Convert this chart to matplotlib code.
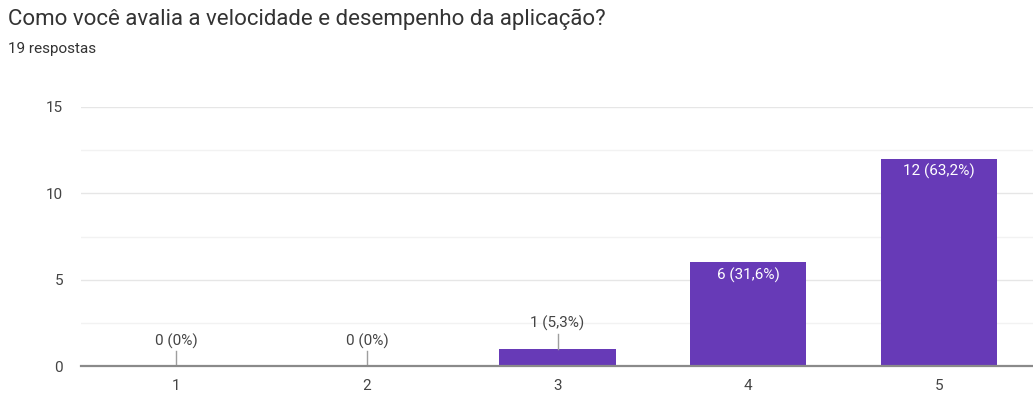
import matplotlib
matplotlib.use("Agg")
import matplotlib.pyplot as plt

categories = ["1", "2", "3", "4", "5"]
counts = [0, 0, 1, 6, 12]
labels = ["0 (0%)", "0 (0%)", "1 (5,3%)", "6 (31,6%)", "12 (63,2%)"]
title = "Como você avalia a velocidade e desempenho da aplicação?"
subtitle = "19 respostas"
yticks = [0, 5, 10, 15]

plt.rcParams['font.family'] = ['Roboto', 'DejaVu Sans']
W, H = 1033, 394
fig = plt.figure(figsize=(W/100, H/100), dpi=100)
ax = fig.add_axes([81/W, 1-366/H, (1034-81)/W, (366-107)/H])

x = list(range(1, len(categories)+1))
purple = "#673AB7"
ax.bar(x, counts, width=0.61, color=purple, zorder=3)

ax.set_xlim(0.5, 5.5)
ax.set_ylim(0, 15)
ax.set_yticks(yticks)
ax.set_yticks([2.5, 7.5, 12.5], minor=True)
ax.grid(axis='y', which='major', color='#e6e6e6', lw=1, zorder=0)
ax.grid(axis='y', which='minor', color='#f2f2f2', lw=1, zorder=0)
ax.tick_params(axis='y', which='both', length=0, labelsize=11, labelcolor='#444444', pad=13)
ax.tick_params(axis='x', length=0, labelsize=11, labelcolor='#444444', pad=9)
ax.set_xticks(x)
ax.set_xticklabels(categories)
for s in ['top', 'right', 'left']:
    ax.spines[s].set_visible(False)
ax.spines['bottom'].set_color('#8a8a8a')
ax.spines['bottom'].set_linewidth(1.6)
ax.spines['bottom'].set_zorder(4)

for xi, c, lab in zip(x, counts, labels):
    if c >= 3:
        ax.text(xi, c - 0.3, lab, ha='center', va='top', color='white', fontsize=11, zorder=5)
    else:
        ax.plot([xi, xi], [c, c + 0.85], color='#9e9e9e', lw=1, zorder=4)
        ax.text(xi, c + 1.0, lab, ha='center', va='bottom', color='#444444', fontsize=11, zorder=5)

fig.text(8/W, 1-19/H, title, ha='left', va='center', fontsize=16, color='#333333')
fig.text(8/W, 1-49/H, subtitle, ha='left', va='center', fontsize=11, color='#333333')

fig.savefig("out.png", dpi=100)
